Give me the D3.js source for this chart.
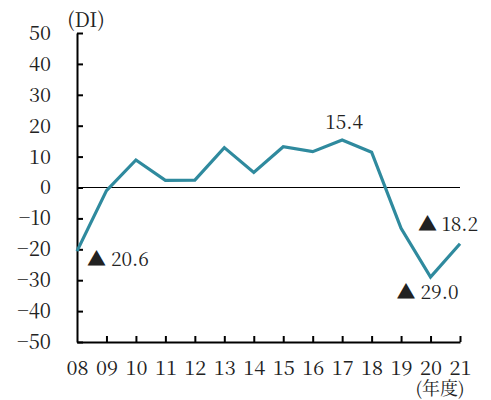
<!DOCTYPE html>
<html>
<head>
<meta charset="utf-8">
<script src="https://cdn.jsdelivr.net/npm/d3@7"></script>
<style>
  body { margin: 0; background: #fff; }
</style>
</head>
<body>
<svg id="chart" width="491" height="400"></svg>
<script>
// fiscal years and DI values
var years = ['08','09','10','11','12','13','14','15','16','17','18','19','20','21'];
var di = [-20.6, -1.0, 8.9, 2.3, 2.4, 12.9, 4.9, 13.2, 11.6, 15.4, 11.4, -13.2, -29.0, -18.2];
var yTicks = [-50, -40, -30, -20, -10, 0, 10, 20, 30, 40, 50];
// annotated points: index into years, label text
var noteIdx = [0, 9, 12, 13];
var noteText = ['▲ 20.6', '15.4', '▲ 29.0', '▲ 18.2'];

var font = 'Noto Serif CJK JP';
var svg = d3.select('#chart');
var padding = {t: 33, r: 31, b: 58, l: 77};
var width = 491, height = 400;

var x = d3.scalePoint().domain(years).range([padding.l, width - padding.r]);
var y = d3.scaleLinear().domain([-50, 50]).range([height - padding.b, padding.t]);

// zero line
svg.append('line')
    .attr('x1', x('08')).attr('x2', x('21'))
    .attr('y1', y(0)).attr('y2', y(0))
    .attr('stroke', '#000').attr('stroke-width', 1.2);

// y axis
var yAxis = svg.append('g')
    .attr('transform', 'translate(' + padding.l + ',0)')
    .call(d3.axisLeft(y).tickValues(yTicks).tickSizeInner(-6).tickSizeOuter(0).tickPadding(26));
// x axis
var xAxis = svg.append('g')
    .attr('transform', 'translate(0,' + y(-50) + ')')
    .call(d3.axisBottom(x).tickSizeInner(-6).tickSizeOuter(0).tickPadding(19));

[yAxis, xAxis].forEach(function(g) {
    g.attr('font-family', font).attr('font-size', 20);
    g.select('.domain').attr('stroke', '#000').attr('stroke-width', 2);
    g.selectAll('.tick line').attr('stroke', '#000').attr('stroke-width', 2);
    g.selectAll('.tick text').attr('fill', '#222');
});
xAxis.selectAll('.tick').filter(function(d) { return d === '08'; }).select('line').remove();

// line
var line = d3.line()
    .x(function(d, i) { return x(years[i]); })
    .y(function(d) { return y(d); });

svg.append('path')
    .datum(di)
    .attr('d', line)
    .attr('fill', 'none')
    .attr('stroke', '#2f8a9e')
    .attr('stroke-width', 3.2)
    .attr('stroke-linejoin', 'miter');

// value notes
var noteDx = [41, 2, -3, -12];
var noteDy = [15, -11, 22, -13];
svg.selectAll('.note')
    .data(noteIdx)
    .enter().append('text')
    .attr('class', 'note')
    .attr('x', function(d, i) { return x(years[d]) + noteDx[i]; })
    .attr('y', function(d, i) { return y(di[d]) + noteDy[i]; })
    .attr('text-anchor', 'middle')
    .attr('font-family', font)
    .attr('font-size', 19)
    .attr('fill', '#222')
    .text(function(d, i) { return noteText[i]; });

// unit labels
svg.append('text').attr('x', 86).attr('y', 27).attr('text-anchor', 'middle')
    .attr('font-family', font).attr('font-size', 20).attr('fill', '#222').text('(DI)');
svg.append('text').attr('x', 440).attr('y', 395).attr('text-anchor', 'middle')
    .attr('font-family', font).attr('font-size', 18).attr('fill', '#222').text('(年度)');
</script>
</body>
</html>
